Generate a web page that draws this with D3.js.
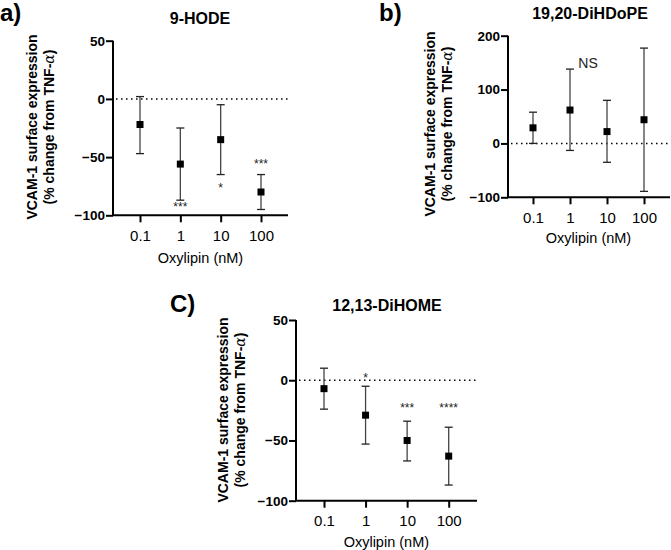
<!DOCTYPE html>
<html><head><meta charset="utf-8">
<script src="https://cdn.jsdelivr.net/npm/d3@7"></script>
<style>body{margin:0;background:#fff}text{font-family:"Liberation Sans",Arial,sans-serif}</style>
</head><body>
<svg id="c" width="671" height="550"></svg>
<script>
const doses = ["0.1","1","10","100"];
// Panel a: 9-HODE
const aMean = [-22,-56,-35,-80];
const aLo   = [-47,-87,-65,-95];
const aHi   = [2,-25,-5,-65];
const aSig  = [ "", "***", "*", "***"];
const aSigY = [null,-92,-76,-55];
// Panel b: 19,20-DiHDoPE
const bMean = [29,62,22,44];
const bLo   = [0,-13,-35,-89];
const bHi   = [58,138,80,177];
// Panel c: 12,13-DiHOME
const cMean = [-7,-29,-50,-63];
const cLo   = [-24,-53,-67,-87];
const cHi   = [10,-5,-34,-39];
const cSig  = ["","*","***","****"];
const cSigY = [null,3,-22,-22];
const aTicks = [50,0,-50,-100];
const bTicks = [200,100,0,-100];
const cTicks = [50,0,-50,-100];

const svg = d3.select("#c");

function panel(o){
  const g = svg.append("g");
  const y = d3.scaleLinear().domain(o.dom).range([o.y1,o.y0]);
  const x = d3.scalePoint().domain(doses).range([o.xt0,o.xt1]);
  // zero dotted line
  g.append("line").attr("x1",o.x0+3).attr("x2",o.x1).attr("y1",y(0)).attr("y2",y(0))
    .attr("stroke","#000").attr("stroke-width",1.5).attr("stroke-dasharray","1.5,3.5");
  // y axis
  const ya = g.append("g").attr("transform",`translate(${o.x0},0)`)
    .call(d3.axisLeft(y).tickValues(o.ticks).tickSize(7).tickPadding(1).tickFormat(d3.format("d")));
  ya.select(".domain").attr("stroke-width",2).attr("d",`M0,${o.y0}V${o.y1}`);
  ya.selectAll(".tick line").attr("stroke-width",2);
  ya.selectAll(".tick text").attr("font-size",13.5).attr("font-weight","bold").attr("fill","#000");
  // x axis
  const xa = g.append("g").attr("transform",`translate(0,${o.y1})`)
    .call(d3.axisBottom(x).tickSize(7).tickPadding(8));
  xa.select(".domain").attr("stroke-width",2).attr("d",`M${o.x0},0H${o.x1}`);
  xa.selectAll(".tick line").attr("stroke-width",2);
  xa.selectAll(".tick text").attr("font-size",15).attr("fill","#000");
  // error bars
  doses.forEach((d,i)=>{
    const cx = x(d);
    g.append("line").attr("x1",cx).attr("x2",cx).attr("y1",y(o.lo[i])).attr("y2",y(o.hi[i]))
      .attr("stroke","#444").attr("stroke-width",1.3);
    [o.lo[i],o.hi[i]].forEach(v=>g.append("line").attr("x1",cx-4).attr("x2",cx+4)
      .attr("y1",y(v)).attr("y2",y(v)).attr("stroke","#222").attr("stroke-width",1.3));
    g.append("rect").attr("x",cx-3.5).attr("y",y(o.mean[i])-3.5).attr("width",7).attr("height",7).attr("fill","#000");
    if(o.sig && o.sig[i]){
      g.append("text").attr("x",cx).attr("y",y(o.sigY[i])+5).attr("text-anchor","middle")
        .attr("font-size",12).attr("fill","#222").text(o.sig[i]);
    }
  });
  if(o.ns){
    g.append("text").attr("x",o.ns[0]).attr("y",y(o.ns[1])+5).attr("text-anchor","middle")
      .attr("font-size",14).attr("fill","#222").text("NS");
  }
  // title
  g.append("text").attr("x",o.tx).attr("y",o.ty).attr("text-anchor","middle")
    .attr("font-size",16).attr("font-weight","bold").text(o.title);
  // x title
  g.append("text").attr("x",(o.xt0+o.xt1)/2).attr("y",o.xty).attr("text-anchor","middle")
    .attr("font-size",14.5).text("Oxylipin (nM)");
  // y title
  const yt = g.append("text").attr("transform",`translate(${o.ylx},${o.yly}) rotate(-90)`)
    .attr("text-anchor","middle").attr("font-size",14).attr("font-weight","bold");
  yt.append("tspan").attr("x",0).attr("dy",0).text("VCAM-1 surface expression");
  yt.append("tspan").attr("x",0).attr("dy",17).text("(% change from TNF-");
  yt.append("tspan").attr("font-style","italic").attr("font-weight","normal").attr("font-family","DejaVu Serif").text("α");
  yt.append("tspan").text(")");
  // panel letter
  g.append("text").attr("x",o.lx).attr("y",o.ly).attr("font-size",24).attr("font-weight","bold").text(o.letter);
}

panel({dom:[-100,50],ticks:aTicks,y0:40.7,y1:215.3,x0:113,x1:288,xt0:140,xt1:261,
  mean:aMean,lo:aLo,hi:aHi,sig:aSig,sigY:aSigY,title:"9-HODE",tx:200,ty:24,xty:263,
  ylx:37,yly:127,letter:"a)",lx:0,ly:21});
panel({dom:[-100,200],ticks:bTicks,y0:35.7,y1:197.3,x0:508,x1:670,xt0:533,xt1:644,
  mean:bMean,lo:bLo,hi:bHi,ns:[588,150],title:"19,20-DiHDoPE",tx:590,ty:19,xty:243,
  ylx:435,yly:124,letter:"b)",lx:379,ly:21});
panel({dom:[-100,50],ticks:cTicks,y0:320,y1:500.7,x0:296,x1:477,xt0:324,xt1:448.7,
  mean:cMean,lo:cLo,hi:cHi,sig:cSig,sigY:cSigY,title:"12,13-DiHOME",tx:387,ty:311,xty:547,
  ylx:228,yly:410,letter:"C)",lx:170,ly:312});
</script>
</body></html>
